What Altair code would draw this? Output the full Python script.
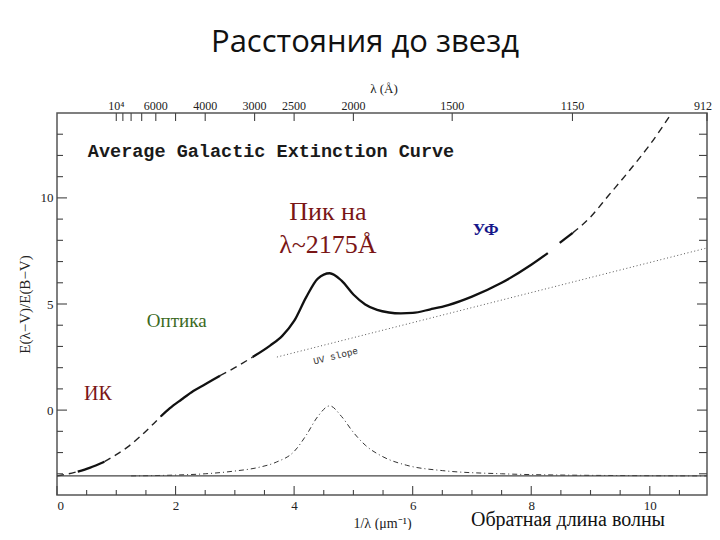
import altair as alt
import pandas as pd

W, H = 650, 382
XMAX = 10.965
YMIN, YMAX = -4, 14
SERIF = "Liberation Serif"
MONO = "Liberation Mono"

# ---- main extinction curve E(lambda-V)/E(B-V) vs 1/lambda ----
curve_x = [0, 0.2, 0.35, 0.55, 0.8, 1.0, 1.2, 1.4, 1.6, 1.75, 1.9, 2.1, 2.3, 2.5, 2.75,
           3.0, 3.3, 3.6, 3.8, 4.0, 4.2, 4.4, 4.6, 4.8, 5.0, 5.2, 5.4, 5.6, 5.8, 6.0,
           6.3, 6.6, 7.0, 7.5, 8.0, 8.28, 8.48, 8.7, 9.0, 9.3, 9.66, 10.0, 10.37]
curve_y = [-3.1, -3.0, -2.9, -2.72, -2.43, -2.1, -1.72, -1.25, -0.72, -0.3, 0.08, 0.5, 0.9, 1.22, 1.62,
           2.0, 2.5, 3.05, 3.5, 4.2, 5.3, 6.2, 6.45, 6.1, 5.45, 4.98, 4.72, 4.6, 4.56, 4.58,
           4.75, 4.95, 5.35, 6.0, 6.85, 7.4, 7.88, 8.35, 9.1, 10.1, 11.3, 12.5, 14.0]
solid_ranges = [(0.35, 0.8), (1.75, 2.75), (3.3, 8.28), (8.48, 8.7)]
dash_ranges = [(0.0, 0.35), (0.8, 1.75), (2.75, 3.3), (8.7, 10.37)]

# ---- 2175 A bump (dash-dot) ----
bump_x = [1.25, 2.0, 2.5, 3.0, 3.4, 3.7, 4.0, 4.2, 4.4, 4.6, 4.8, 5.0, 5.2, 5.5, 5.9, 6.5, 7.5, 8.5, 10.965]
bump_y = [-3.1, -3.06, -3.0, -2.87, -2.7, -2.45, -1.95, -1.2, -0.3, 0.2, -0.3, -1.05, -1.65, -2.2, -2.6, -2.85, -3.0, -3.06, -3.1]

# ---- UV slope (dotted) ----
uv_x = [3.71, 10.965]
uv_y = [2.5, 7.64]

baseline_y = [-3.1]

# ---- ticks ----
x_major = [0, 2, 4, 6, 8, 10]
x_minor = [0.5, 1, 1.5, 2.5, 3, 3.5, 4.5, 5, 5.5, 6.5, 7, 7.5, 8.5, 9, 9.5, 10.5]
y_major = [0, 5, 10]
y_minor = [-3, -2, -1, 1, 2, 3, 4, 6, 7, 8, 9, 11, 12, 13]
lam_ticks = [10000, 9000, 8000, 7000, 6000, 5000, 4000, 3000, 2500, 2000, 1500, 1150, 912]
lam_vals = [10000, 6000, 4000, 3000, 2500, 2000, 1500, 1150]
lam_labels = ["10⁴", "6000", "4000", "3000", "2500", "2000", "1500", "1150"]
lam_last_val = [912]
lam_last_label = ["912"]

xs = alt.Scale(domain=[0, XMAX], nice=False, zero=False)
ys = alt.Scale(domain=[YMIN, YMAX], nice=False, zero=False)

AX = alt.Axis(values=x_major, ticks=False, domain=False, grid=False,
              labelFont=SERIF, labelFontSize=13, labelColor="#222", labelPadding=4,
              titleFont=SERIF, titleFontSize=14, titleFontWeight="normal",
              titleColor="#222", titleY=32, titleBaseline="alphabetic")
AY = alt.Axis(values=y_major, ticks=False, domain=False, grid=False,
              labelFont=SERIF, labelFontSize=13, labelColor="#222", labelPadding=4,
              titleFont=SERIF, titleFontSize=15, titleFontWeight="normal",
              titleColor="#222", titleX=-33, titleY=H / 2, titleAngle=270,
              titleAlign="center", titleBaseline="middle")
XT = "1/λ (μm⁻¹)"
YT = "E(λ−V)/E(B−V)"

def X(f="x"):
    return alt.X(f"{f}:Q", scale=xs, axis=AX, title=XT)

def Y(f="y"):
    return alt.Y(f"{f}:Q", scale=ys, axis=AY, title=YT)

rows = []
for style, ranges in (("solid", solid_ranges), ("dash", dash_ranges)):
    for i, (a, b) in enumerate(ranges):
        for x, y in zip(curve_x, curve_y):
            if a - 1e-9 <= x <= b + 1e-9:
                rows.append(dict(x=x, y=y, seg=f"{style}{i}", style=style))
curve_df = pd.DataFrame(rows)

solid = alt.Chart(curve_df).transform_filter("datum.style == 'solid'").mark_line(
    color="#111", strokeWidth=2.3, clip=True, interpolate="monotone").encode(
    x=X(), y=Y(), detail="seg:N")

dashed = alt.Chart(curve_df).transform_filter("datum.style == 'dash'").mark_line(
    color="#222", strokeWidth=1.4, strokeDash=[7, 5], clip=True, interpolate="monotone").encode(
    x=X(), y=Y(), detail="seg:N")

bump = alt.Chart(pd.DataFrame({"x": bump_x, "y": bump_y})).mark_line(
    color="#333", strokeWidth=1.0, strokeDash=[5, 3, 1, 3], interpolate="monotone").encode(
    x=X(), y=Y())

uv = alt.Chart(pd.DataFrame({"x": uv_x, "y": uv_y})).mark_line(
    color="#555", strokeWidth=1.0, strokeDash=[1, 2.5]).encode(x=X(), y=Y())

base = alt.Chart(pd.DataFrame({"y": baseline_y})).mark_rule(
    color="#444", strokeWidth=1.3).encode(y=Y())

def tick_layer(vals, length, side):
    df = pd.DataFrame({"v": vals})
    c = alt.Chart(df).mark_rule(color="#444", strokeWidth=1.1)
    if side == "bottom":
        return c.encode(x=X("v"), y=alt.value(H), y2=alt.value(H - length))
    if side == "left":
        return c.encode(y=Y("v"), x=alt.value(0), x2=alt.value(length))
    return c.encode(y=Y("v"), x=alt.value(W), x2=alt.value(W - length))

ticks = [
    tick_layer(x_major, 9, "bottom"),
    tick_layer(x_minor, 5, "bottom"),
    tick_layer(y_major, 10, "left"),
    tick_layer(y_minor, 6, "left"),
    tick_layer(y_major, 10, "right"),
    tick_layer(y_minor, 8, "right"),
]

top_ticks = alt.Chart(pd.DataFrame({"lam": lam_ticks})).transform_calculate(
    v="10000 / datum.lam").mark_rule(color="#444", strokeWidth=1.1).encode(
    x=X("v"), y=alt.value(0), y2=alt.value(8))

top_labels = alt.Chart(pd.DataFrame({"lam": lam_vals, "t": lam_labels})).transform_calculate(
    v="10000 / datum.lam").mark_text(font=SERIF, fontSize=12, color="#222",
                                      baseline="alphabetic", dy=-3).encode(
    x=X("v"), y=alt.value(0), text="t:N")

top_last = alt.Chart(pd.DataFrame({"lam": lam_last_val, "t": lam_last_label})).transform_calculate(
    v="10000 / datum.lam").mark_text(font=SERIF, fontSize=12, color="#222", align="right",
                                      baseline="alphabetic", dy=-3, dx=5).encode(
    x=X("v"), y=alt.value(0), text="t:N")

def label(text, x, y, color="#222", size=14, weight="normal", font=SERIF,
          align="center", angle=0, baseline="alphabetic"):
    df = pd.DataFrame({"x": [x], "y": [y], "t": [text]})
    return alt.Chart(df).mark_text(color=color, fontSize=size, fontWeight=weight, font=font,
                                   align=align, baseline=baseline, angle=angle).encode(
        x=X(), y=Y(), text="t:N")

def pix_label(text, px, py, size, font, color="#111", align="center", baseline="alphabetic"):
    df = pd.DataFrame({"t": [text]})
    return alt.Chart(df).mark_text(color=color, fontSize=size, font=font, align=align,
                                   baseline=baseline).encode(
        x=alt.value(px), y=alt.value(py), text="t:N")

DARKRED = "#7a1616"
labels = [
    label("Average Galactic Extinction Curve", 0.52, 11.93, color="#1a1a1a", size=18.5,
          weight="bold", font=MONO, align="left"),
    label("UV slope", 4.70, 2.55, color="#333", size=9.5, font=MONO, angle=346,
          baseline="middle"),
    label("Пик на", 4.57, 8.96, color=DARKRED, size=26),
    label("λ~2175Å", 4.57, 7.41, color=DARKRED, size=26),
    label("УФ", 7.23, 8.25, color="#16168a", size=17, weight="bold"),
    label("Оптика", 2.02, 3.92, color="#3c6a1e", size=19),
    label("ИК", 0.69, 0.47, color=DARKRED, size=20),
    pix_label("λ (Å)", 327, -20, 13, SERIF, color="#222"),
    pix_label("Расстояния до звезд", 308, -61, 31, "Open Sans"),
    pix_label("Обратная длина волны", 511, 413, 20, SERIF),
]

chart = alt.layer(
    solid, dashed, bump, uv, base, *ticks, top_ticks, top_labels, top_last, *labels
).properties(
    width=W, height=H,
    autosize=alt.AutoSizeParams(type="none"),
    padding={"left": 49, "top": 105, "right": 5, "bottom": 35},
    background="white",
).configure_view(stroke="#555", strokeWidth=1.5)

chart.save("out.html", embed_options={"renderer": "svg", "actions": False})
